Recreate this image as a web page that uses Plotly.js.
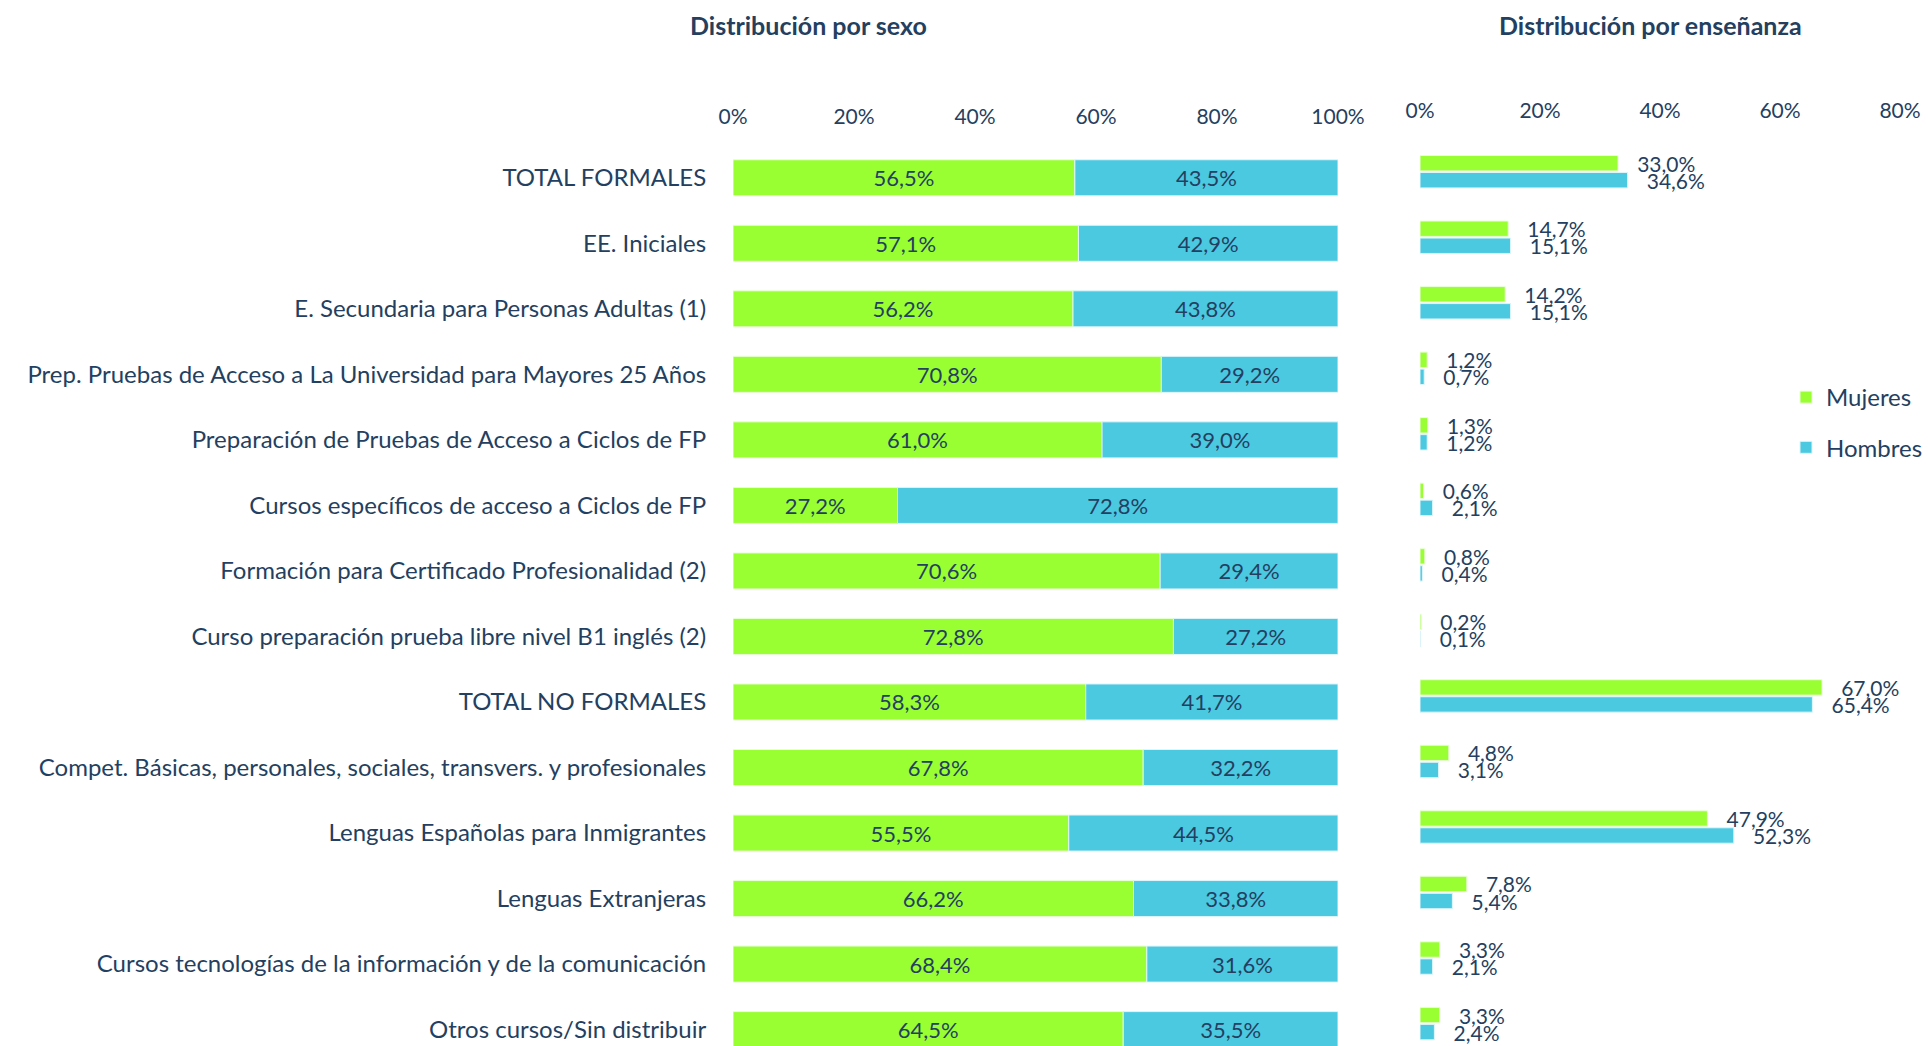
<!DOCTYPE html>
<html>
<head>
<meta charset="utf-8">
<script src="https://cdn.plot.ly/plotly-3.0.1.min.js"></script>
<style>
  html, body { margin: 0; padding: 0; background: #ffffff; }
  #chart { width: 1928px; height: 1046px; }
</style>
</head>
<body>
<div id="chart"></div>
<script>
// ---- Data ----
const categories = [
  "TOTAL FORMALES",
  "EE. Iniciales",
  "E. Secundaria para Personas Adultas (1)",
  "Prep. Pruebas de Acceso a La Universidad para Mayores 25 Años",
  "Preparación de Pruebas de Acceso a Ciclos de FP",
  "Cursos específicos de acceso a Ciclos de FP",
  "Formación para Certificado Profesionalidad (2)",
  "Curso preparación prueba libre nivel B1 inglés (2)",
  "TOTAL NO FORMALES",
  "Compet. Básicas, personales, sociales, transvers. y profesionales",
  "Lenguas Españolas para Inmigrantes",
  "Lenguas Extranjeras",
  "Cursos tecnologías de la información y de la comunicación",
  "Otros cursos/Sin distribuir"
];
const sexoMujeres = [56.5, 57.1, 56.2, 70.8, 61.0, 27.2, 70.6, 72.8, 58.3, 67.8, 55.5, 66.2, 68.4, 64.5];
const sexoHombres = [43.5, 42.9, 43.8, 29.2, 39.0, 72.8, 29.4, 27.2, 41.7, 32.2, 44.5, 33.8, 31.6, 35.5];
const ensMujeres  = [33.0, 14.7, 14.2, 1.2, 1.3, 0.6, 0.8, 0.2, 67.0, 4.8, 47.9, 7.8, 3.3, 3.3];
const ensHombres  = [34.6, 15.1, 15.1, 0.7, 1.2, 2.1, 0.4, 0.1, 65.4, 3.1, 52.3, 5.4, 2.1, 2.4];
const leftTicks  = [0, 20, 40, 60, 80, 100];
const rightTicks = [0, 20, 40, 60, 80];
const seriesNames = ["Mujeres", "Hombres"];
const panelTitles = ["Distribución por sexo", "Distribución por enseñanza"];

// ---- Styles ----
const GREEN = "#99ff33";
const BLUE = "#4bc9e1";
const TXT = "#243f60";
const FONT = "Lato, 'Open Sans', sans-serif";
const pct = v => v + "%";

const traces = [
  {
    type: "bar", orientation: "h", name: seriesNames[0],
    y: categories, x: sexoMujeres, xaxis: "x", yaxis: "y",
    width: 0.55, offset: -0.275,
    marker: { color: GREEN, line: { color: "#e8ffd6", width: 1 } },
    texttemplate: "%{x:.1f}%", textposition: "inside", insidetextanchor: "middle",
    constraintext: "none",
    textfont: { family: FONT, size: 22, color: TXT },
    showlegend: false, hoverinfo: "skip"
  },
  {
    type: "bar", orientation: "h", name: seriesNames[1],
    y: categories, x: sexoHombres, base: sexoMujeres, xaxis: "x", yaxis: "y",
    width: 0.55, offset: -0.275,
    marker: { color: BLUE, line: { color: "#dff5fa", width: 1 } },
    texttemplate: "%{x:.1f}%", textposition: "inside", insidetextanchor: "middle",
    constraintext: "none",
    textfont: { family: FONT, size: 22, color: TXT },
    showlegend: false, hoverinfo: "skip"
  },
  {
    type: "bar", orientation: "h", name: seriesNames[0], legendgroup: "m",
    y: categories, x: ensMujeres, xaxis: "x2", yaxis: "y",
    width: 0.235, offset: -0.34,
    marker: { color: GREEN, line: { color: "#e8ffd6", width: 1 } },
    texttemplate: "\u00a0\u00a0\u00a0%{x:.1f}%", textposition: "outside",
    constraintext: "none", cliponaxis: false,
    textfont: { family: FONT, size: 21, color: TXT },
    hoverinfo: "skip"
  },
  {
    type: "bar", orientation: "h", name: seriesNames[1], legendgroup: "h",
    y: categories, x: ensHombres, xaxis: "x2", yaxis: "y",
    width: 0.235, offset: -0.08,
    marker: { color: BLUE, line: { color: "#dff5fa", width: 1 } },
    texttemplate: "\u00a0\u00a0\u00a0%{x:.1f}%", textposition: "outside",
    constraintext: "none", cliponaxis: false,
    textfont: { family: FONT, size: 21, color: TXT },
    hoverinfo: "skip"
  }
];

const W = 1928, H = 1046;
const layout = {
  width: W, height: H,
  margin: { l: 0, r: 0, t: 0, b: 0, pad: 0, autoexpand: false },
  paper_bgcolor: "#ffffff", plot_bgcolor: "rgba(0,0,0,0)",
  font: { family: FONT, size: 21, color: TXT },
  separators: ",.",
  barmode: "overlay",
  showlegend: true,
  legend: {
    x: 1, y: 1 - 375 / H, xanchor: "right", yanchor: "top",
    font: { family: FONT, size: 24, color: TXT },
    tracegroupgap: 16, traceorder: "grouped",
    bgcolor: "rgba(0,0,0,0)"
  },
  xaxis: {
    domain: [733 / W, 1338 / W], range: [0, 100], anchor: "y", side: "top",
    tickmode: "array", tickvals: leftTicks, ticktext: leftTicks.map(pct),
    ticks: "outside", ticklen: 12, tickcolor: "rgba(0,0,0,0)",
    showgrid: false, zeroline: false, showline: false, fixedrange: true, automargin: false,
    tickfont: { family: FONT, size: 21, color: TXT }
  },
  xaxis2: {
    domain: [1420 / W, 1900 / W], range: [0, 80], anchor: "y", side: "top",
    tickmode: "array", tickvals: rightTicks, ticktext: rightTicks.map(pct),
    ticks: "outside", ticklen: 18, tickcolor: "rgba(0,0,0,0)",
    showgrid: false, zeroline: false, showline: false, fixedrange: true, automargin: false,
    tickfont: { family: FONT, size: 21, color: TXT }
  },
  yaxis: {
    domain: [0, 1 - 145 / H], type: "category", categoryarray: categories,
    range: [13.25, -0.5], anchor: "x",
    ticks: "outside", ticklen: 21, tickcolor: "rgba(0,0,0,0)",
    showgrid: false, zeroline: false, showline: false, fixedrange: true, automargin: false,
    tickfont: { family: FONT, size: 24, color: TXT }
  },
  annotations: [
    { text: "<b>" + panelTitles[0] + "</b>", xref: "paper", yref: "paper",
      x: 808 / W, y: 1 - 25 / H, xanchor: "center", yanchor: "middle", showarrow: false,
      font: { family: FONT, size: 25, color: TXT } },
    { text: "<b>" + panelTitles[1] + "</b>", xref: "paper", yref: "paper",
      x: 1650 / W, y: 1 - 25 / H, xanchor: "center", yanchor: "middle", showarrow: false,
      font: { family: FONT, size: 25, color: TXT } }
  ]
};

Plotly.newPlot("chart", traces, layout, { staticPlot: true, displayModeBar: false });
</script>
</body>
</html>
